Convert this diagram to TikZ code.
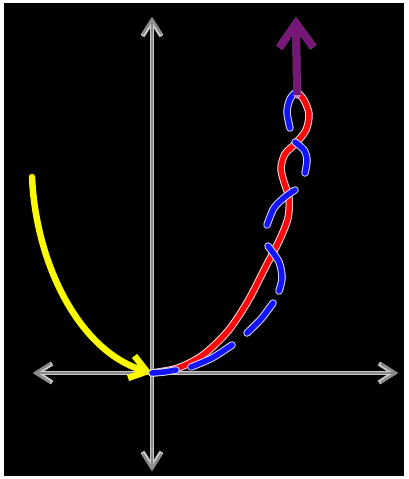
\documentclass[tikz,border=0pt]{standalone}
\usetikzlibrary{arrows.meta}
\definecolor{axisgray}{RGB}{138,138,138}
\definecolor{axisedge}{RGB}{200,200,200}
\definecolor{curvered}{RGB}{250,10,10}
\definecolor{curveblue}{RGB}{20,20,250}
\definecolor{curveyellow}{RGB}{250,250,0}
\definecolor{limitpurple}{RGB}{118,22,118}
\definecolor{purpleedge}{RGB}{200,140,200}
\begin{document}
\begin{tikzpicture}[x=1pt,y=-1pt,
  rim/.style={preaction={draw=#1,line width=7.5pt,line cap=round}},
  wave/.style={line width=5.5pt,line cap=round}]
\fill[white] (0,0) rectangle (408,479);
\fill[black] (4,3) rectangle (404,476);
\coordinate (O) at (152,373);
\coordinate (xl) at (33,373); \coordinate (xr) at (398,373);
\coordinate (yt) at (152,17); \coordinate (yb) at (152,471);
\coordinate (start) at (32,177); \coordinate (top) at (296,17);
% axes, light rim first
\foreach \w/\c in {4.4/axisedge,2.4/axisgray} {
  \draw[line width=\w pt,\c,line join=round,{Straight Barb[length=15pt,width=19pt]}-{Straight Barb[length=15pt,width=19pt]}] (xl) -- (xr);
  \draw[line width=\w pt,\c,line join=round,{Straight Barb[length=15pt,width=19pt]}-{Straight Barb[length=15pt,width=19pt]}] (yt) -- (yb);
}
% approach from the left
\draw[curveyellow,line width=6.5pt,line cap=round,-{Straight Barb[length=16pt,width=23pt]}] (start) .. controls (36,265) and (80,352) .. (O);
% red curve
\draw[curvered,wave,rim=white!85!red] plot[smooth] coordinates {(152,373) (178,368) (203,355) (228,331) (248,301) (265,268) (279,241) (288,218) (289,198) (284,182) (281,168) (285,154) (296,143) (306,130) (309,114) (304,100) (297,92)};
% blue dashes
\foreach \d in {{(152,373) (164,372) (176,370)},
                {(191,367) (212,358) (232,345)},
                {(247,333) (261,319) (273,303)},
                {(279,291) (282,278) (279,262) (268,246)},
                {(267,225) (274,208) (285,197) (295,190)},
                {(305,173) (307,160) (304,150) (295,142)},
                {(290,128) (287,112) (290,99) (296,92)}}
  \draw[curveblue,wave,rim=white!85!blue] plot[smooth] coordinates \d;
% limit arrow
\draw[limitpurple,line width=7.5pt,rim=purpleedge,-{Straight Barb[length=24pt,width=34pt]}] (297,95) -- (top);
\end{tikzpicture}
\end{document}
